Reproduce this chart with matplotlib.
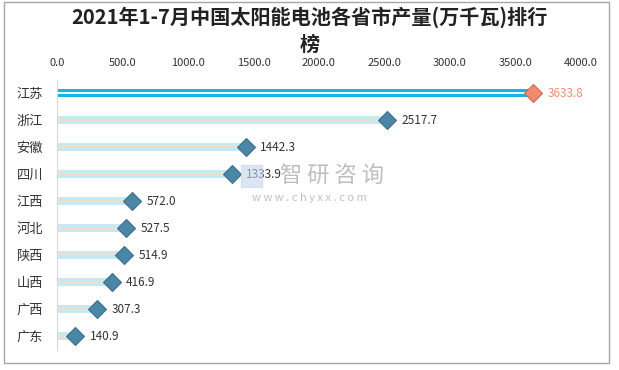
import matplotlib.pyplot as plt
import matplotlib.patches as patches

plt.rcParams['font.family'] = ['Noto Sans CJK SC', 'DejaVu Sans']

# data
provinces = ["江苏", "浙江", "安徽", "四川", "江西", "河北", "陕西", "山西", "广西", "广东"]
output = [3633.8, 2517.7, 1442.3, 1333.9, 572.0, 527.5, 514.9, 416.9, 307.3, 140.9]
xticks = [0, 500, 1000, 1500, 2000, 2500, 3000, 3500, 4000]
title = "2021年1-7月中国太阳能电池各省市产量(万千瓦)排行\n榜"

fig = plt.figure(figsize=(6.19, 3.70), dpi=100)
ax = fig.add_axes([0.092, 0.0554, 0.8466, 0.7297])

ypos = list(range(len(provinces)))
for i, (name, v) in enumerate(zip(provinces, output)):
    top = i == 0
    ax.barh(i, v, height=0.3, color="#1cb0e8" if top else "#c6e9f6", zorder=2)
    ax.hlines(i, 0, v, color="white" if top else "#f7dcc0", lw=1.3, zorder=3)
    ax.plot(v, i, marker="D", ms=9, mfc="#f28b6e" if top else "#4a86a6",
            mec="#3f6f8a" if not top else "#c96a52", mew=0.8, zorder=4)
    ax.text(v + 110, i, f"{v:.1f}", va="center", ha="left", fontsize=8.5,
            color="#f28b6e" if top else "#333333", zorder=5)

ax.set_xlim(0, 4000)
ax.set_ylim(len(provinces) - 0.5, -0.5)
ax.set_yticks(ypos)
ax.set_yticklabels(provinces, fontsize=9.5, color="#333333")
ax.set_xticks(xticks)
ax.set_xticklabels([f"{t:.1f}" for t in xticks], fontsize=8, color="#333333")
ax.xaxis.tick_top()
ax.tick_params(axis="x", length=0, pad=8)
ax.tick_params(axis="y", length=0, pad=10)
for s in ["top", "right", "bottom"]:
    ax.spines[s].set_visible(False)
ax.spines["left"].set_color("#d9d9d9")

fig.text(0.5, 0.982, title, ha="center", va="top", fontsize=14.5,
         fontweight="bold", color="#222222", linespacing=1.35)

# watermark
fig.text(0.537, 0.522, "智 研 咨 询", ha="center", va="center", fontsize=16,
         color="#a8a8a8", alpha=0.75)
fig.text(0.50, 0.466, "w w w . c h y x x . c o m", ha="center", va="center",
         fontsize=8, color="#b0b0b0", alpha=0.8)
fig.patches.append(patches.Rectangle((0.390, 0.495), 0.034, 0.058,
                                     transform=fig.transFigure, color="#c4d6ea", alpha=0.6))

# frame
fig.patches.append(patches.Rectangle((0.0065, 0.019), 0.977, 0.975, fill=False,
                                     edgecolor="#a6a6a6", lw=1, transform=fig.transFigure))

fig.savefig("out.png", dpi=100)
